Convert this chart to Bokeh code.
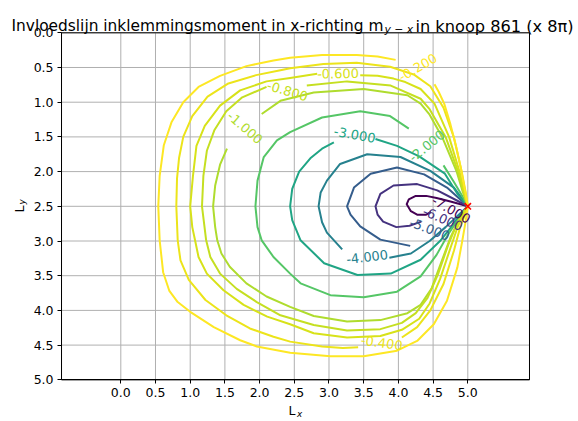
from bokeh.plotting import figure
from bokeh.models import (Range1d, FixedTicker, PrintfTickFormatter, LinearAxis,
                          ColumnDataSource, Grid)
from bokeh.palettes import Viridis256
from bokeh.embed import file_html
from bokeh.resources import INLINE
from bokeh.core.properties import value

# ---------------- data ----------------
LEVELS = [-7.0, -6.0, -5.0, -4.0, -3.0, -2.0, -1.0, -0.8, -0.6, -0.4, -0.2]

# contour lines (segments separated by the inline label gaps)
C_M020_X = [[5.00, 4.95, 4.90, 4.83, 4.75, 4.66, 4.58, 4.52],
            [3.96, 3.70, 3.40, 2.90, 2.44, 2.20, 1.81, 1.43, 1.12, 0.90, 0.73, 0.62, 0.56, 0.54,
             0.56, 0.61, 0.70, 0.82, 1.00, 1.34, 1.72, 1.96, 2.44, 3.02, 3.50, 3.98, 4.27, 4.51,
             4.70, 4.85, 4.92, 4.97, 5.00]]
C_M020_Y = [[2.50, 2.22, 1.95, 1.63, 1.32, 1.02, 0.85, 0.74],
            [0.39, 0.34, 0.32, 0.32, 0.36, 0.40, 0.48, 0.62, 0.78, 1.00, 1.29, 1.62, 2.06, 2.50,
             2.99, 3.45, 3.72, 3.88, 4.02, 4.24, 4.43, 4.52, 4.61, 4.66, 4.66, 4.58, 4.44, 4.20,
             3.86, 3.38, 3.00, 2.71, 2.50]]

C_M040_X = [[5.00, 4.97, 4.91, 4.80, 4.65, 4.46, 4.22, 3.88, 3.40, 2.92, 2.44, 2.30, 1.95, 1.55,
             1.25, 1.03, 0.90, 0.84, 0.81, 0.80, 0.82, 0.86, 0.98, 1.22, 1.52, 1.86, 2.20, 2.44,
             2.90, 3.20, 3.42],
            [4.05, 4.27, 4.46, 4.65, 4.80, 4.89, 4.96, 5.00]]
C_M040_Y = [[2.50, 2.30, 1.99, 1.51, 1.08, 0.77, 0.60, 0.49, 0.43, 0.45, 0.51, 0.54, 0.61, 0.73,
             0.92, 1.20, 1.50, 1.80, 2.10, 2.50, 2.99, 3.28, 3.56, 3.85, 4.07, 4.26, 4.38, 4.45,
             4.52, 4.54, 4.53],
            [4.39, 4.24, 4.00, 3.62, 3.14, 2.80, 2.62, 2.50]]

C_M060_X = [[5.00, 4.95, 4.88, 4.73, 4.52, 4.32, 4.10, 3.93, 3.70, 3.45],
            [2.83, 2.44, 2.10, 1.72, 1.43, 1.21, 1.09, 1.04, 1.00, 1.03, 1.07, 1.12, 1.24, 1.48,
             1.77, 2.11, 2.44, 2.78, 3.26, 3.74, 4.05, 4.30, 4.45, 4.60, 4.75, 4.86, 4.95, 5.00]]
C_M060_Y = [[2.50, 2.30, 2.00, 1.50, 1.02, 0.81, 0.71, 0.66, 0.62, 0.61],
            [0.59, 0.65, 0.70, 0.83, 1.05, 1.34, 1.63, 2.06, 2.50, 2.80, 2.99, 3.23, 3.47, 3.71,
             3.92, 4.09, 4.20, 4.33, 4.39, 4.37, 4.28, 4.12, 3.90, 3.55, 3.10, 2.78, 2.60, 2.50]]

C_M080_X = [[5.00, 4.94, 4.86, 4.68, 4.45, 4.32, 3.89, 3.26, 2.68],
            [2.10, 1.75, 1.52, 1.35, 1.24, 1.19, 1.17, 1.23, 1.29, 1.43, 1.67, 1.96, 2.30, 2.78,
             3.26, 3.74, 4.05, 4.25, 4.42, 4.57, 4.72, 4.84, 4.94, 5.00]]
C_M080_Y = [[2.50, 2.30, 2.00, 1.50, 1.10, 0.95, 0.76, 0.70, 0.76],
            [0.78, 0.93, 1.13, 1.40, 1.70, 2.06, 2.50, 2.99, 3.23, 3.47, 3.69, 3.88, 4.07, 4.21,
             4.29, 4.27, 4.18, 4.04, 3.82, 3.48, 3.05, 2.76, 2.59, 2.50]]

C_M100_X = [[5.00, 4.93, 4.84, 4.63, 4.45, 4.32, 4.13, 3.50, 2.78, 2.30, 2.03],
            [1.53, 1.43, 1.36, 1.33, 1.36, 1.39, 1.45, 1.57, 1.81, 2.10, 2.44, 2.78, 3.26, 3.74,
             4.13, 4.32, 4.48, 4.62, 4.75, 4.86, 4.94, 5.00]]
C_M100_Y = [[2.50, 2.30, 2.00, 1.50, 1.18, 1.02, 0.90, 0.81, 0.86, 0.98, 1.17],
            [1.67, 1.90, 2.20, 2.50, 2.80, 2.99, 3.18, 3.37, 3.61, 3.80, 3.95, 4.08, 4.16, 4.14,
             4.04, 3.92, 3.68, 3.30, 2.95, 2.72, 2.58, 2.50]]

C_M200_X = [[4.15, 3.88, 3.45, 2.90, 2.44, 2.25, 2.06, 1.97, 1.94, 1.97, 2.03, 2.20, 2.44, 2.59,
             3.02, 3.50, 3.98, 4.32, 4.55, 4.72, 4.87, 5.00],
            [4.65, 4.80, 4.92, 5.00]]
C_M200_Y = [[1.38, 1.20, 1.13, 1.22, 1.43, 1.55, 1.79, 2.13, 2.50, 2.80, 2.99, 3.23, 3.47, 3.61,
             3.78, 3.81, 3.73, 3.51, 3.20, 2.90, 2.68, 2.50],
            [1.91, 2.15, 2.35, 2.50]]

C_M300_X = [[5.00, 4.85, 4.67, 4.30, 3.98, 3.67],
            [3.07, 2.90, 2.74, 2.57, 2.47, 2.44, 2.47, 2.59, 2.93, 3.41, 3.89, 4.32, 4.60, 4.80,
             4.92, 5.00]]
C_M300_Y = [[2.50, 2.32, 2.03, 1.78, 1.63, 1.53],
            [1.58, 1.67, 1.80, 2.00, 2.25, 2.50, 2.70, 2.99, 3.32, 3.49, 3.47, 3.27, 3.00, 2.75,
             2.60, 2.50]]

C_M400_X = [[3.19, 2.97, 2.90, 2.85, 2.88, 2.97, 3.16, 3.55, 4.03, 4.46, 4.80, 5.00],
            [3.87, 4.18, 4.45, 4.68, 4.87, 5.00]]
C_M400_Y = [[3.12, 2.88, 2.73, 2.50, 2.30, 2.13, 1.89, 1.75, 1.79, 1.99, 2.23, 2.50],
            [3.24, 3.18, 3.00, 2.80, 2.62, 2.50]]

C_M500_X = [[4.17, 3.74, 3.45, 3.31, 3.26, 3.36, 3.60, 3.98, 4.37, 4.70, 5.00],
            [4.78, 4.90, 5.00]]
C_M500_Y = [[3.07, 2.98, 2.79, 2.62, 2.50, 2.23, 2.03, 1.94, 2.04, 2.23, 2.50],
            [2.76, 2.62, 2.50]]

C_M600_X = [[4.33, 4.16, 3.97, 3.78, 3.70, 3.67, 3.74, 3.93, 4.27, 4.56, 4.85, 5.00]]
C_M600_Y = [[2.72, 2.78, 2.80, 2.72, 2.62, 2.50, 2.32, 2.20, 2.18, 2.27, 2.42, 2.50]]

C_M700_X = [[4.47, 4.40, 4.27, 4.18, 4.12, 4.15, 4.25, 4.40, 4.55, 4.75, 5.00]]
C_M700_Y = [[2.58, 2.62, 2.62, 2.57, 2.47, 2.40, 2.35, 2.35, 2.38, 2.43, 2.50]]

CONTOURS = [(-7.0, C_M700_X, C_M700_Y), (-6.0, C_M600_X, C_M600_Y), (-5.0, C_M500_X, C_M500_Y),
            (-4.0, C_M400_X, C_M400_Y), (-3.0, C_M300_X, C_M300_Y), (-2.0, C_M200_X, C_M200_Y),
            (-1.0, C_M100_X, C_M100_Y), (-0.8, C_M080_X, C_M080_Y), (-0.6, C_M060_X, C_M060_Y),
            (-0.4, C_M040_X, C_M040_Y), (-0.2, C_M020_X, C_M020_Y)]

# inline contour labels
LABEL_LEVEL = [-0.2, -0.4, -0.6, -0.8, -1.0, -2.0, -3.0, -4.0, -5.0, -6.0, -7.0]
LABEL_TEXT = ["-0.200", "-0.400", "-0.600", "-0.800", "-1.000", "-2.000", "-3.000",
              "-4.000", "-5.000", "-6.000", "-7.000"]
LABEL_X = [4.28, 3.76, 3.13, 2.40, 1.79, 4.41, 3.37, 3.55, 4.45, 4.64, 4.76]
LABEL_Y = [0.50, 4.47, 0.59, 0.84, 1.37, 1.63, 1.47, 3.23, 2.83, 2.68, 2.55]
LABEL_ANGLE = [30, -8, 1, -17, -41, 39, -10, 7, -21, -23, -30]

NODE_X = [5.0]
NODE_Y = [2.5]

X_TICKS = [0.0, 0.5, 1.0, 1.5, 2.0, 2.5, 3.0, 3.5, 4.0, 4.5, 5.0]
Y_TICKS = [0.0, 0.5, 1.0, 1.5, 2.0, 2.5, 3.0, 3.5, 4.0, 4.5, 5.0]

TITLE_MAIN = "Invloedslijn inklemmingsmoment in x-richting m"
TITLE_SUB = "y \u2212 x"
TITLE_END = "in knoop 861 (x 8\u03c0)"
XLABEL_MAIN, XLABEL_SUB = "L", "x"
YLABEL_MAIN, YLABEL_SUB = "L", "y"

# ---------------- layout / styling ----------------
FONT = "DejaVu Sans"
LMIN, LMAX = min(LEVELS), max(LEVELS)
# axes box (data limits shown by the reference, equal aspect)
BOX_X0, BOX_X1 = -0.854, 5.889
BOX_Y0, BOX_Y1 = 0.0, 5.0


def level_color(lv):
    t = (lv - LMIN) / (LMAX - LMIN)
    return Viridis256[min(int(t * 256), 255)]


# the frame spans the whole canvas; axes are pinned to the box edges
p = figure(frame_width=576, frame_height=419,
           x_range=Range1d(-1.7334, 6.5663), y_range=Range1d(5.572, -0.4654),
           output_backend="svg", toolbar_location=None, title=None,
           x_axis_location=None, y_axis_location=None, min_border=0)
p.center = [r for r in p.center if not isinstance(r, Grid)]
p.background_fill_color = "white"
p.border_fill_color = "white"
p.outline_line_color = None

# grid lines at the tick positions, inside the box
p.segment(x0=X_TICKS, y0=[BOX_Y0] * len(X_TICKS), x1=X_TICKS, y1=[BOX_Y1] * len(X_TICKS),
          line_color="#b0b0b0", line_width=1, level="underlay")
p.segment(x0=[BOX_X0] * len(Y_TICKS), y0=Y_TICKS, x1=[BOX_X1] * len(Y_TICKS), y1=Y_TICKS,
          line_color="#b0b0b0", line_width=1, level="underlay")

xaxis = LinearAxis(fixed_location=BOX_Y1, bounds=(BOX_X0, BOX_X1))
yaxis = LinearAxis(fixed_location=BOX_X0, bounds=(BOX_Y0, BOX_Y1))
for ax, ticks in ((xaxis, X_TICKS), (yaxis, Y_TICKS)):
    ax.ticker = FixedTicker(ticks=ticks)
    ax.formatter = PrintfTickFormatter(format="%.1f")
    ax.major_label_text_font = FONT
    ax.major_label_text_font_size = "12.5px"
    ax.major_label_text_color = "black"
    ax.major_tick_out = 4
    ax.major_tick_in = 0
    ax.minor_tick_out = 0
    ax.minor_tick_in = 0
    ax.major_tick_line_color = "black"
    ax.axis_line_color = "black"
    ax.major_label_standoff = 4
p.add_layout(xaxis, "below")
p.add_layout(yaxis, "left")

# axes box (top and right spines)
p.quad(left=[BOX_X0], right=[BOX_X1], top=[BOX_Y0], bottom=[BOX_Y1], fill_color=None,
       line_color="black", line_width=1)

# contour lines
xs, ys, cols = [], [], []
for lv, cx, cy in CONTOURS:
    for sx, sy in zip(cx, cy):
        xs.append(sx)
        ys.append(sy)
        cols.append(level_color(lv))
src = ColumnDataSource(dict(xs=xs, ys=ys, color=cols))
p.multi_line(xs="xs", ys="ys", line_color="color", line_width=2, line_join="round", source=src)

# contour labels
lsrc = ColumnDataSource(dict(x=LABEL_X, y=LABEL_Y, text=LABEL_TEXT, angle=LABEL_ANGLE,
                             color=[level_color(v) for v in LABEL_LEVEL]))
p.text(x="x", y="y", text="text", angle="angle", angle_units="deg", text_color="color",
       text_font=value(FONT), text_font_size=value("13px"), text_align="center",
       text_baseline="middle", source=lsrc)

# node marker
p.scatter(x=NODE_X, y=NODE_Y, marker="x", size=9, line_color="red", line_width=1.6)


def add_text(x, y, text, size, align="left", italic=False, angle=0):
    p.text(x=[x], y=[y], text=[text], angle=angle, angle_units="deg",
           text_font=value(FONT), text_font_size=value(size), text_align=align,
           text_font_style="italic" if italic else "normal",
           text_baseline="alphabetic", text_color="black")


# title (with subscript) and axis labels (with subscripts)
add_text(1.105, -0.091, TITLE_MAIN, "15.4px", align="center")
add_text(3.800, -0.048, TITLE_SUB, "10.8px", italic=True)
add_text(4.246, -0.091, TITLE_END, "16.2px")
add_text(2.416, 5.442, XLABEL_MAIN, "12.5px")
add_text(2.539, 5.486, XLABEL_SUB, "8.8px", italic=True)
add_text(-1.460, 2.590, YLABEL_MAIN, "12.5px", angle=90)
add_text(-1.417, 2.474, YLABEL_SUB, "8.8px", italic=True, angle=90)

open("out.html", "w").write(file_html(p, INLINE))
